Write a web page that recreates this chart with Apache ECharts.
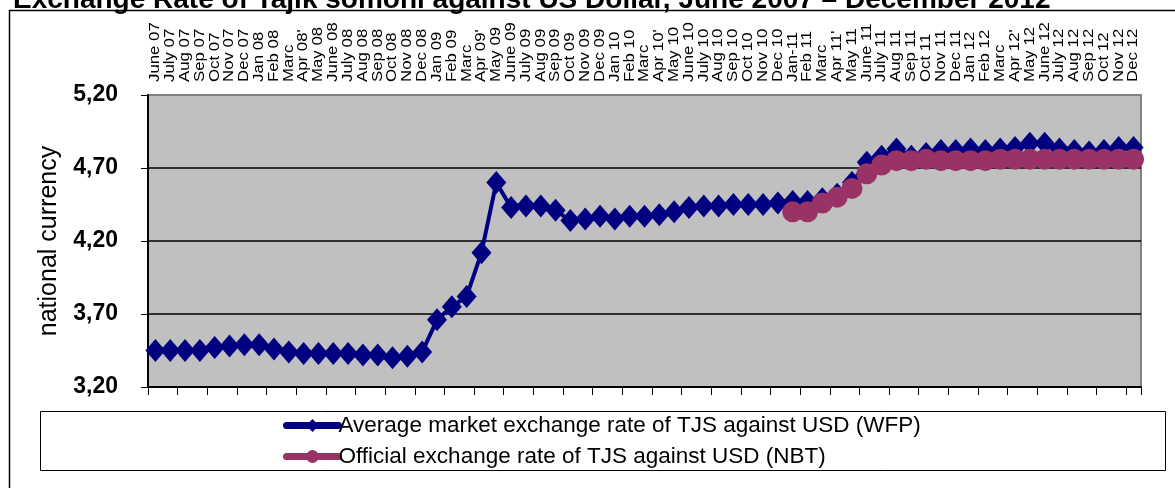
<!DOCTYPE html>
<html>
<head>
<meta charset="utf-8">
<title>Exchange Rate of Tajik somoni against US Dollar</title>
<script src="https://cdn.jsdelivr.net/npm/echarts@6/dist/echarts.min.js"></script>
<style>
  html, body { margin: 0; padding: 0; background: #fff; }
  #chart { width: 1175px; height: 488px; }
</style>
</head>
<body>
<div id="chart"></div>
<script>
// Month labels, June 2007 – December 2012
const categories = [
  'June 07', 'July 07', 'Aug 07', 'Sep 07', 'Oct 07', 'Nov 07', 'Dec 07',
  'Jan 08', 'Feb 08', 'Marc', "Apr 08'", 'May 08', 'June 08', 'July 08', 'Aug 08', 'Sep 08', 'Oct 08', 'Nov 08', 'Dec 08',
  'Jan 09', 'Feb 09', 'Marc', "Apr 09'", 'May 09', 'June 09', 'July 09', 'Aug 09', 'Sep 09', 'Oct 09', 'Nov 09', 'Dec 09',
  'Jan 10', 'Feb 10', 'Marc', "Apr 10'", 'May 10', 'June 10', 'July 10', 'Aug 10', 'Sep 10', 'Oct 10', 'Nov 10', 'Dec 10',
  'Jan-11', 'Feb 11', 'Marc', "Apr 11'", 'May 11', 'June 11', 'July 11', 'Aug 11', 'Sep 11', 'Oct 11', 'Nov 11', 'Dec 11',
  'Jan 12', 'Feb 12', 'Marc', "Apr 12'", 'May 12', 'June 12', 'July 12', 'Aug 12', 'Sep 12', 'Oct 12', 'Nov 12', 'Dec 12'
];

// Average market exchange rate (WFP), TJS per USD
const wfpRate = [
  3.45, 3.45, 3.45, 3.45, 3.47, 3.48, 3.49,
  3.49, 3.46, 3.44, 3.43, 3.43, 3.43, 3.43, 3.42, 3.42, 3.40, 3.41, 3.44,
  3.66, 3.75, 3.82, 4.12, 4.60, 4.43, 4.44, 4.44, 4.41, 4.34, 4.35, 4.37,
  4.35, 4.37, 4.37, 4.38, 4.40, 4.43, 4.44, 4.44, 4.45, 4.45, 4.45, 4.46,
  4.47, 4.47, 4.49, 4.52, 4.60, 4.74, 4.78, 4.83, 4.78, 4.80, 4.82, 4.82,
  4.83, 4.82, 4.83, 4.84, 4.87, 4.87, 4.83, 4.82, 4.81, 4.82, 4.84, 4.84
];

// Official exchange rate (NBT), TJS per USD, from January 2011
const nbtFirstMonth = 'Jan-11';
const nbtRate = [
  4.40, 4.40, 4.46, 4.50, 4.56, 4.66, 4.72, 4.75, 4.75, 4.76, 4.75, 4.75,
  4.75, 4.75, 4.76, 4.76, 4.76, 4.76, 4.76, 4.76, 4.76, 4.76, 4.76, 4.76
];

const yTicks = { min: 3.2, max: 5.2, interval: 0.5 };

const titleText = 'Exchange Rate of Tajik somoni against US Dollar, June 2007 \u2013 December 2012';
const wfpName = 'Average market exchange rate of TJS against USD (WFP)';
const nbtName = 'Official exchange rate of TJS against USD (NBT)';

const nbtStart = categories.indexOf(nbtFirstMonth);
const nbtSeries = categories.map((_, i) =>
  i < nbtStart ? null : nbtRate[i - nbtStart]);

const FONT = '"Liberation Sans", Arial, sans-serif';

const chart = echarts.init(document.getElementById('chart'), null, { renderer: 'canvas' });

// Month names above the plot: vertical text, slightly elongated along the reading direction
function renderMonthLabel(params, api) {
  const i = params.dataIndex;
  const p = api.coord([i, yTicks.max]);
  return {
    type: 'text',
    silent: true,
    x: p[0],
    y: p[1] - 13,
    rotation: Math.PI / 2,
    scaleX: 1.2,
    style: {
      text: categories[i],
      font: '14px ' + FONT,
      fill: '#000',
      align: 'left',
      verticalAlign: 'middle'
    }
  };
}

chart.setOption({
  animation: false,
  backgroundColor: '#ffffff',
  textStyle: { fontFamily: FONT, color: '#000' },
  grid: {
    left: 148, right: 34, top: 95, bottom: 101,
    show: true,
    backgroundColor: '#C0C0C0',
    borderColor: '#808080',
    borderWidth: 2
  },
  graphic: [
    {
      type: 'rect',
      silent: true,
      shape: { x: 9.5, y: 10.5, width: 1400, height: 700 },
      style: { fill: null, stroke: '#000', lineWidth: 1.5 }
    },
    {
      type: 'text',
      silent: true,
      style: {
        x: 13, y: 0,
        text: titleText,
        font: 'bold 28px ' + FONT,
        fill: '#000',
        verticalAlign: 'middle'
      }
    },
    {
      type: 'rect',
      silent: true,
      shape: { x: 40.5, y: 411.5, width: 1125, height: 59 },
      style: { fill: '#fff', stroke: '#000', lineWidth: 1 },
      z: -1
    }
  ],
  legend: {
    orient: 'vertical',
    left: 283,
    top: 414,
    padding: 0,
    itemGap: 8,
    itemWidth: 52,
    itemHeight: 16,
    lineStyle: { width: 7, cap: 'round' },
    textStyle: { fontSize: 22.5, color: '#000', fontFamily: FONT, padding: [0, 0, 0, -5] },
    data: [wfpName, nbtName]
  },
  xAxis: {
    type: 'category',
    position: 'bottom',
    data: categories,
    boundaryGap: true,
    axisLine: { show: true, lineStyle: { color: '#000', width: 2 } },
    axisTick: { show: true, interval: 1, length: 8, lineStyle: { color: '#000', width: 1 } },
    axisLabel: { show: false },
    splitLine: { show: false }
  },
  yAxis: {
    type: 'value',
    min: yTicks.min,
    max: yTicks.max,
    interval: yTicks.interval,
    name: 'national currency',
    nameLocation: 'middle',
    nameGap: 86,
    nameTextStyle: { fontSize: 25, color: '#000', fontFamily: FONT },
    axisLine: { show: true, lineStyle: { color: '#000', width: 2 } },
    axisTick: { show: true, length: 7, lineStyle: { color: '#000' } },
    axisLabel: {
      fontSize: 23,
      fontWeight: 'bold',
      color: '#000',
      margin: 30,
      fontFamily: FONT,
      formatter: v => v.toFixed(2).replace('.', ',')
    },
    splitLine: {
      show: true,
      lineStyle: { color: ['#000', '#000', '#000', '#000', '#808080'], width: 1.5 }
    }
  },
  series: [
    {
      name: wfpName,
      type: 'line',
      data: wfpRate,
      symbol: 'diamond',
      symbolSize: [20, 23],
      showAllSymbol: true,
      itemStyle: { color: '#000080' },
      lineStyle: { color: '#000080', width: 4 },
      z: 2
    },
    {
      name: nbtName,
      type: 'line',
      data: nbtSeries,
      symbol: 'circle',
      symbolSize: 21,
      showAllSymbol: true,
      itemStyle: { color: '#993366' },
      lineStyle: { color: '#993366', width: 4 },
      z: 3
    },
    {
      name: 'month labels',
      type: 'custom',
      data: categories.map((_, i) => [i, yTicks.max]),
      renderItem: renderMonthLabel,
      clip: false,
      silent: true,
      tooltip: { show: false },
      z: 4
    }
  ]
});
</script>
</body>
</html>
